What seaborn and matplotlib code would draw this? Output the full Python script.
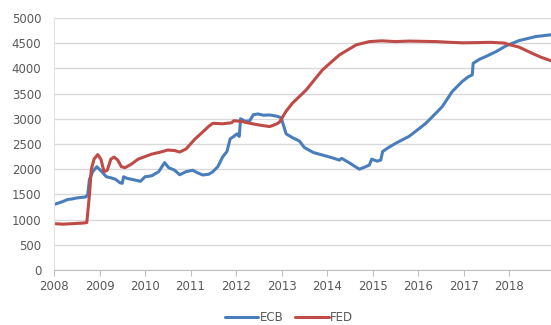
import matplotlib
matplotlib.use("Agg")
import matplotlib.pyplot as plt
import seaborn as sns
import pandas as pd
from matplotlib.lines import Line2D

ecb_t = [2008.00, 2008.10, 2008.20, 2008.30, 2008.40, 2008.50, 2008.60, 2008.70, 2008.74, 2008.78,
         2008.85, 2008.94, 2009.05, 2009.15, 2009.25, 2009.35, 2009.45, 2009.50, 2009.53, 2009.60,
         2009.75, 2009.90, 2010.00, 2010.15, 2010.30, 2010.43, 2010.52, 2010.65, 2010.76, 2010.90,
         2011.05, 2011.15, 2011.27, 2011.40, 2011.49, 2011.60, 2011.71, 2011.80, 2011.87, 2011.95,
         2012.02, 2012.07, 2012.10, 2012.20, 2012.30, 2012.38, 2012.48, 2012.60, 2012.74, 2012.90,
         2012.99, 2013.05, 2013.10, 2013.25, 2013.39, 2013.50, 2013.70, 2013.90, 2014.10, 2014.27,
         2014.32, 2014.50, 2014.71, 2014.85, 2014.93, 2014.98, 2015.10, 2015.18, 2015.22, 2015.35,
         2015.52, 2015.80, 2016.03, 2016.17, 2016.39, 2016.53, 2016.75, 2016.97, 2017.10, 2017.19,
         2017.21, 2017.35, 2017.49, 2017.71, 2017.93, 2018.22, 2018.59, 2018.92]
ecb_v = [1300, 1330, 1360, 1400, 1410, 1430, 1440, 1450, 1500, 1800,
         1950, 2050, 1950, 1850, 1830, 1800, 1730, 1720, 1850, 1820,
         1790, 1760, 1850, 1870, 1950, 2130, 2030, 1980, 1890, 1950,
         1980, 1930, 1885, 1900, 1950, 2050, 2250, 2350, 2600, 2650,
         2700, 2650, 3000, 2950, 2960, 3080, 3095, 3070, 3075, 3050,
         3020, 2850, 2700, 2620, 2560, 2430, 2330, 2280, 2230, 2180,
         2215, 2120, 2000, 2050, 2083, 2200, 2160, 2180, 2350, 2430,
         2520, 2650, 2810, 2910, 3110, 3240, 3540, 3740, 3830, 3870,
         4100, 4180, 4235, 4330, 4445, 4550, 4630, 4665]

fed_t = [2008.00, 2008.20, 2008.40, 2008.60, 2008.72, 2008.78, 2008.82, 2008.88, 2008.96, 2009.03,
         2009.10, 2009.17, 2009.25, 2009.32, 2009.40, 2009.48, 2009.56, 2009.70, 2009.85, 2010.00,
         2010.15, 2010.30, 2010.50, 2010.65, 2010.76, 2010.90, 2010.98, 2011.10, 2011.27, 2011.40,
         2011.49, 2011.70, 2011.90, 2011.95, 2012.10, 2012.36, 2012.55, 2012.74, 2012.90, 2012.96,
         2013.10, 2013.24, 2013.54, 2013.90, 2014.27, 2014.64, 2014.93, 2015.20, 2015.50, 2015.80,
         2016.10, 2016.40, 2016.70, 2017.00, 2017.30, 2017.60, 2017.90, 2018.00, 2018.22, 2018.50,
         2018.70, 2018.92]
fed_v = [920, 910, 920, 930, 940, 1500, 2000, 2200, 2290, 2200,
         1950, 1980, 2200, 2240, 2180, 2050, 2030, 2100, 2200, 2250,
         2300, 2330, 2380, 2370, 2340, 2400, 2480, 2600, 2740, 2850,
         2910, 2900, 2920, 2960, 2950, 2900, 2870, 2845, 2900, 2940,
         3150, 3310, 3570, 3970, 4265, 4465, 4530, 4545, 4530, 4540,
         4535, 4530, 4515, 4505, 4510, 4515, 4500, 4470, 4420, 4300,
         4220, 4150]

years = list(range(2008, 2019))
yticks = list(range(0, 5001, 500))

df = pd.concat([
    pd.DataFrame({"t": ecb_t, "v": ecb_v, "s": "ECB"}),
    pd.DataFrame({"t": fed_t, "v": fed_v, "s": "FED"}),
], ignore_index=True)

sns.set_style("white")
plt.rcParams["font.family"] = ["DejaVu Sans"]

fig = plt.figure(figsize=(5.51, 3.25), dpi=100)
ax = fig.add_axes([0.098, 0.169, 0.902, 0.776])

sns.lineplot(data=df, x="t", y="v", hue="s", estimator=None, sort=False,
             palette={"ECB": "#4A7EBB", "FED": "#BE4B48"}, linewidth=2.2, ax=ax,
             legend=False)

ax.set_xlim(2008, 2018.92)
ax.set_ylim(0, 5000)
ax.set_xticks(years)
ax.set_xticklabels([str(y) for y in years])
ax.set_yticks(yticks)
ax.set_yticklabels([str(v) for v in yticks])
ax.set_xlabel("")
ax.set_ylabel("")
ax.yaxis.grid(True, color="#D9D9D9", linewidth=1.0)
ax.set_axisbelow(True)
for side in ["top", "right"]:
    ax.spines[side].set_visible(False)
ax.spines["left"].set_color("#E3E3E3")
ax.spines["bottom"].set_color("#BFBFBF")
ax.tick_params(axis="x", length=4, color="#BFBFBF", labelsize=8.5, labelcolor="#595959", pad=3, bottom=True)
ax.tick_params(axis="y", length=0, labelsize=8.5, labelcolor="#595959", pad=9)

handles = [Line2D([0], [0], color="#4A7EBB", lw=2.2), Line2D([0], [0], color="#BE4B48", lw=2.2)]
fig.legend(handles, ["ECB", "FED"], loc="center", bbox_to_anchor=(0.525, 0.022), ncol=2,
           frameon=False, fontsize=8.5, handlelength=2.8, handletextpad=0.15, columnspacing=1.0,
           labelcolor="#595959")

fig.savefig("out.png", dpi=100)
